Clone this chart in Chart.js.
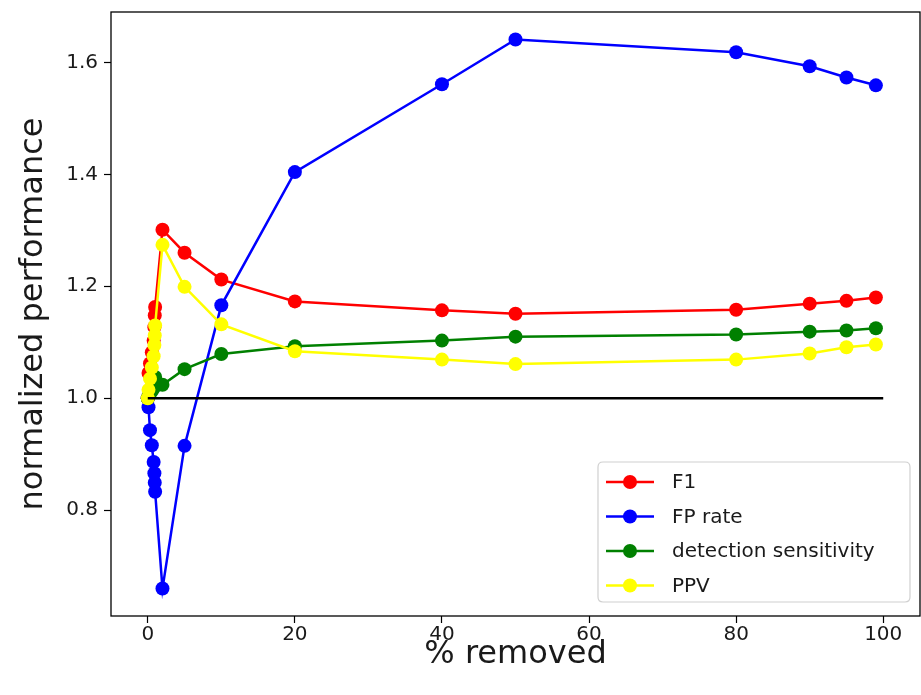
<!DOCTYPE html>
<html>
<head>
<meta charset="utf-8">
<script src="https://cdn.jsdelivr.net/npm/chart.js@4/dist/chart.umd.min.js"></script>
<style>
  html, body { margin: 0; padding: 0; background: #ffffff; }
  #wrap { width: 921px; height: 695px; }
</style>
</head>
<body>
<div id="wrap"><canvas id="c" width="921" height="695"></canvas></div>
<script>
// ---- data ----
const removed = [0, 0.1, 0.3, 0.55, 0.8, 0.9, 0.95, 1, 2, 5, 10, 20, 40, 50, 80, 90, 95, 99];
const f1 = [1.0, 1.045, 1.062, 1.082, 1.103, 1.127, 1.148, 1.163, 1.301, 1.26, 1.212, 1.173, 1.157, 1.151, 1.158, 1.169, 1.174, 1.18];
const fpRate = [1.0, 0.984, 0.943, 0.916, 0.886, 0.866, 0.849, 0.833, 0.660, 0.915, 1.166, 1.404, 1.561, 1.641, 1.618, 1.593, 1.573, 1.559];
const sensitivity = [1.0, 1.004, 1.008, 1.013, 1.018, 1.024, 1.03, 1.038, 1.024, 1.052, 1.079, 1.093, 1.103, 1.11, 1.114, 1.119, 1.121, 1.125];
const ppv = [1.0, 1.015, 1.035, 1.055, 1.075, 1.095, 1.112, 1.13, 1.274, 1.199, 1.132, 1.084, 1.069, 1.061, 1.069, 1.08, 1.091, 1.096];
const refX = [0, 100];
const refY = [1, 1];
const xTicks = [0, 20, 40, 60, 80, 100];
const yTicks = [0.8, 1.0, 1.2, 1.4, 1.6];
const seriesNames = ['F1', 'FP rate', 'detection sensitivity', 'PPV'];
const xTitle = '% removed';
const yTitle = 'normalized performance';

const FONT = "'DejaVu Sans', sans-serif";
const TXT = '#1a1a1a';

function pts(xs, ys) { return xs.map((x, i) => ({ x: x, y: ys[i] })); }

function series(label, ys, color, order) {
  return {
    label: label,
    data: pts(removed, ys),
    borderColor: color,
    backgroundColor: color,
    pointBackgroundColor: color,
    pointBorderColor: color,
    pointBorderWidth: 0,
    pointRadius: 7,
    pointHoverRadius: 7,
    borderWidth: 2.5,
    tension: 0,
    fill: false,
    order: order
  };
}

const datasets = [
  series(seriesNames[0], f1, '#ff0000', 4),
  series(seriesNames[1], fpRate, '#0000ff', 3),
  series(seriesNames[2], sensitivity, '#008000', 2),
  series(seriesNames[3], ppv, '#ffff00', 1),
  {
    label: '',
    data: pts(refX, refY),
    borderColor: '#000000',
    backgroundColor: '#000000',
    borderWidth: 2.5,
    pointRadius: 0,
    pointHoverRadius: 0,
    tension: 0,
    fill: false,
    order: 0
  }
];

const framePlugin = {
  id: 'frame',
  afterDraw(chart) {
    const ctx = chart.ctx;
    const a = chart.chartArea;
    ctx.save();
    ctx.strokeStyle = '#000000';
    ctx.lineWidth = 1.3;
    ctx.strokeRect(a.left, a.top, a.right - a.left, a.bottom - a.top);

    // legend box (lower right, matplotlib style)
    const items = chart.data.datasets.filter(d => d.label);
    const bx = 598, by = 462, bw = 312, bh = 140, r = 5;
    ctx.beginPath();
    ctx.moveTo(bx + r, by);
    ctx.lineTo(bx + bw - r, by);
    ctx.quadraticCurveTo(bx + bw, by, bx + bw, by + r);
    ctx.lineTo(bx + bw, by + bh - r);
    ctx.quadraticCurveTo(bx + bw, by + bh, bx + bw - r, by + bh);
    ctx.lineTo(bx + r, by + bh);
    ctx.quadraticCurveTo(bx, by + bh, bx, by + bh - r);
    ctx.lineTo(bx, by + r);
    ctx.quadraticCurveTo(bx, by, bx + r, by);
    ctx.closePath();
    ctx.fillStyle = 'rgba(255,255,255,0.8)';
    ctx.fill();
    ctx.strokeStyle = '#d0d0d0';
    ctx.lineWidth = 1.2;
    ctx.stroke();

    ctx.font = '20px ' + FONT;
    ctx.textBaseline = 'middle';
    ctx.textAlign = 'left';
    items.forEach((d, i) => {
      const y = 482 + i * 34.5;
      ctx.strokeStyle = d.borderColor;
      ctx.lineWidth = 2.5;
      ctx.beginPath();
      ctx.moveTo(606, y);
      ctx.lineTo(654, y);
      ctx.stroke();
      ctx.fillStyle = d.borderColor;
      ctx.beginPath();
      ctx.arc(630, y, 7, 0, Math.PI * 2);
      ctx.fill();
      ctx.fillStyle = TXT;
      ctx.fillText(d.label, 672, y + 1);
    });
    ctx.restore();
  }
};

function zeroPad(scale) {
  scale.paddingTop = 0;
  scale.paddingBottom = 0;
  scale.paddingLeft = 0;
  scale.paddingRight = 0;
}

new Chart(document.getElementById('c'), {
  type: 'line',
  data: { datasets: datasets },
  plugins: [framePlugin],
  options: {
    responsive: false,
    animation: false,
    events: [],
    layout: { autoPadding: false, padding: { top: 12, right: 1, left: 0, bottom: 0 } },
    plugins: {
      legend: { display: false },
      tooltip: { enabled: false }
    },
    scales: {
      x: {
        type: 'linear',
        min: -5,
        max: 105,
        afterFit(scale) { scale.height = 79; zeroPad(scale); },
        afterBuildTicks(scale) { scale.ticks = xTicks.map(v => ({ value: v })); },
        ticks: {
          color: TXT,
          font: { family: FONT, size: 20 },
          padding: 0,
          maxRotation: 0,
          autoSkip: false,
          callback: v => String(v)
        },
        grid: {
          drawOnChartArea: false,
          drawTicks: true,
          tickLength: 7,
          tickColor: '#000000',
          tickWidth: 1.2
        },
        border: { display: false },
        title: {
          display: true,
          text: xTitle,
          color: TXT,
          font: { family: FONT, size: 32 },
          padding: { top: 0, bottom: 21 }
        }
      },
      y: {
        type: 'linear',
        min: 0.611,
        max: 1.690,
        afterFit(scale) { scale.width = 111; zeroPad(scale); },
        afterBuildTicks(scale) { scale.ticks = yTicks.map(v => ({ value: v })); },
        ticks: {
          color: TXT,
          font: { family: FONT, size: 20 },
          padding: 6,
          autoSkip: false,
          callback: v => Number(v).toFixed(1)
        },
        grid: {
          drawOnChartArea: false,
          drawTicks: true,
          tickLength: 7,
          tickColor: '#000000',
          tickWidth: 1.2
        },
        border: { display: false },
        title: {
          display: true,
          text: yTitle,
          color: TXT,
          font: { family: FONT, size: 32 },
          padding: { top: 14, bottom: 0 }
        }
      }
    }
  }
});
</script>
</body>
</html>
